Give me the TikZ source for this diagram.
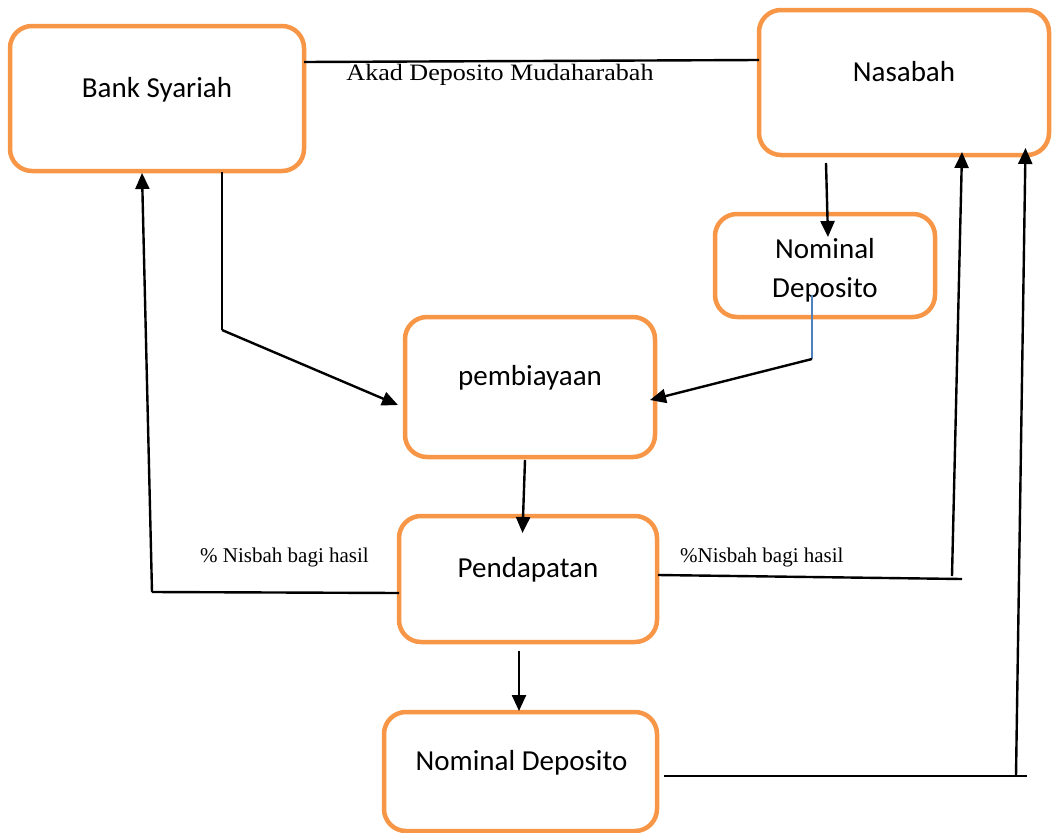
\documentclass[tikz,border=0pt]{standalone}
\usepackage{fontspec}
\setmainfont{Carlito}
\newfontfamily\tnr{Liberation Serif}
\usetikzlibrary{arrows.meta}
\definecolor{boxorange}{HTML}{F79646}
\definecolor{linkblue}{HTML}{4F81BD}
\tikzset{
  box/.style={draw=boxorange, line width=4.5pt, rounded corners=22pt, fill=white, rectangle, inner sep=0pt},
  boxtext/.style={anchor=base, inner sep=0pt, font=\fontsize{29}{35}\selectfont},
  lbltext/.style={anchor=base west, inner sep=0pt, font=\tnr\fontsize{21}{25}\selectfont},
  conn/.style={line width=2.4pt, black},
  arr/.style={conn, -{Triangle[length=16pt,width=14pt]}},
}
\begin{document}
\begin{tikzpicture}[x=1pt,y=-1pt]
\useasboundingbox (0,0) rectangle (1053,833);
% boxes
\node[box, minimum width=294pt, minimum height=145pt] (bank) at (157,98.5) {};
\node[box, minimum width=290pt, minimum height=145pt] (nasabah) at (904,82.5) {};
\node[box, minimum width=220pt, minimum height=103pt] (nomsmall) at (825,265.5) {};
\node[box, minimum width=250pt, minimum height=140pt] (pemb) at (530,387) {};
\node[box, minimum width=258pt, minimum height=126pt] (pend) at (528,579) {};
\node[box, minimum width=273pt, minimum height=119pt] (nombot) at (520.5,771.5) {};
% box texts
\node[boxtext] (tbank) at (157,97) {Bank Syariah};
\node[boxtext] (tnas) at (904,81) {Nasabah};
\node[boxtext] (tnom1) at (825,258) {Nominal};
\node[boxtext] (tnom2) at (825,297) {Deposito};
\node[boxtext] (tpemb) at (530,385) {pembiayaan};
\node[boxtext] (tpend) at (528,577) {Pendapatan};
\node[boxtext] (tnombot) at (521.5,770) {Nominal Deposito};
% labels
\node[anchor=base, inner sep=0pt, font=\tnr\fontsize{23.5}{27}\selectfont] (lakad) at (500,80) {\scalebox{1.11}[1]{Akad Deposito Mudaharabah}};
\node[lbltext] (lnis1) at (200,562) {\% Nisbah bagi hasil};
\node[lbltext] (lnis2) at (680,562) {\%Nisbah bagi hasil};
% coordinates
\coordinate (ak1) at (304,62);
\coordinate (ak2) at (759,60);
\coordinate (b1) at (222,172);
\coordinate (b2) at (222,330);
\coordinate (b3) at (398,405);
\coordinate (n1) at (812,295);
\coordinate (n2) at (812,359);
\coordinate (n3) at (650,400);
\coordinate (s1) at (826,163);
\coordinate (s2) at (828,237);
\coordinate (p1) at (525,460);
\coordinate (p2) at (522.5,533);
\coordinate (d1) at (519,651);
\coordinate (d2) at (519,711);
\coordinate (l1) at (399,593);
\coordinate (l2) at (152,592);
\coordinate (l3) at (142,173);
\coordinate (r1) at (658,575);
\coordinate (r2) at (962,579);
\coordinate (r3) at (952,576);
\coordinate (r4) at (962,152);
\coordinate (q1) at (664,776);
\coordinate (q2) at (1027,776);
\coordinate (q3) at (1016,776);
\coordinate (q4) at (1025.5,148);
% connectors
\draw[conn] (ak1) -- (ak2);
\draw[conn, line width=1.6pt] (b1) -- (b2);
\draw[arr] (b2) -- (b3);
\draw[linkblue, line width=1.3pt] (n1) -- (n2);
\draw[arr] (n2) -- (n3);
\draw[arr] (s1) -- (s2);
\draw[arr] (p1) -- (p2);
\draw[arr] (d1) -- (d2);
\draw[conn] (l1) -- (l2);
\draw[arr] (l2) -- (l3);
\draw[conn] (r1) -- (r2);
\draw[arr] (r3) -- (r4);
\draw[conn] (q1) -- (q2);
\draw[arr] (q3) -- (q4);
\end{tikzpicture}
\end{document}
